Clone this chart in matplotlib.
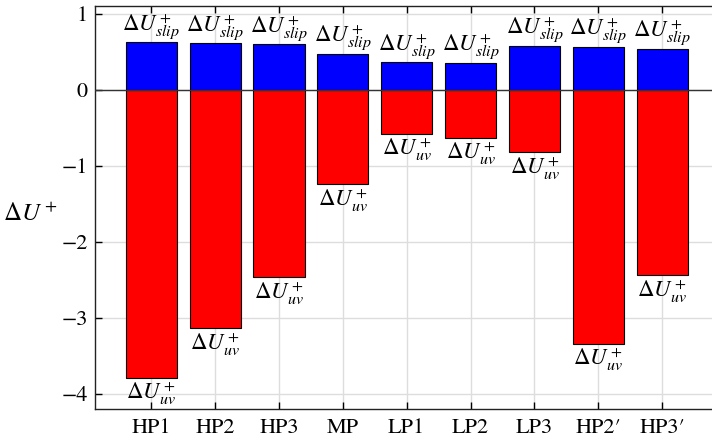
import matplotlib.pyplot as plt
import numpy as np

plt.rcParams['font.family'] = 'STIXGeneral'
plt.rcParams['mathtext.fontset'] = 'stix'

# velocity shift contributions per case
cases = ['HP1', 'HP2', 'HP3', 'MP', 'LP1', 'LP2', 'LP3', 'HP2\u2032', 'HP3\u2032']
du_slip = [0.627, 0.614, 0.60, 0.474, 0.364, 0.36, 0.583, 0.57, 0.543]
du_uv = [-3.79, -3.14, -2.465, -1.24, -0.575, -0.63, -0.82, -3.34, -2.44]

x = np.arange(len(cases))

fig = plt.figure(figsize=(7.12, 4.41), dpi=100)
# right edge of axes runs off the canvas
ax = fig.add_axes([94.5 / 712, 1 - 409 / 441, (719 - 94.5) / 712, (409 - 6) / 441])

ax.bar(x, du_slip, width=0.8, color='#0000ff', edgecolor='black', linewidth=0.8, zorder=3)
ax.bar(x, du_uv, width=0.8, color='#ff0000', edgecolor='black', linewidth=0.8, zorder=3)
ax.axhline(0, color='#333333', linewidth=1.0, zorder=4)

for xi, s, u in zip(x, du_slip, du_uv):
    ax.text(xi, s + 0.01, r'$\Delta U^+_{slip}$', ha='center', va='bottom', fontsize=16.5, zorder=5)
    ax.text(xi, u - 0.03, r'$\Delta U^+_{uv}$', ha='center', va='top', fontsize=16.5, zorder=5)

ax.set_xlim(-0.89, 8.89)
ax.set_ylim(-4.2, 1.105)
ax.set_xticks(x)
ax.set_xticklabels(cases, fontsize=16)
ax.set_yticks([-4, -3, -2, -1, 0, 1])
ax.set_yticklabels(['\u22124', '\u22123', '\u22122', '\u22121', '0', '1'], fontsize=16)
ax.tick_params(direction='in', length=5, width=1, top=True, pad=5)
ax.tick_params(axis='x', pad=7)
ax.grid(True, color='#dddddd', linewidth=1.0, zorder=0)
ax.set_axisbelow(True)
for sp in ax.spines.values():
    sp.set_color('#222222')
    sp.set_linewidth(1.0)

ax.set_ylabel(r'$\Delta U^+$', fontsize=18, rotation=0, va='center')
ax.yaxis.set_label_coords(-0.103, (-1.64 + 4.2) / 5.305)

fig.savefig('out.png', dpi=100)
